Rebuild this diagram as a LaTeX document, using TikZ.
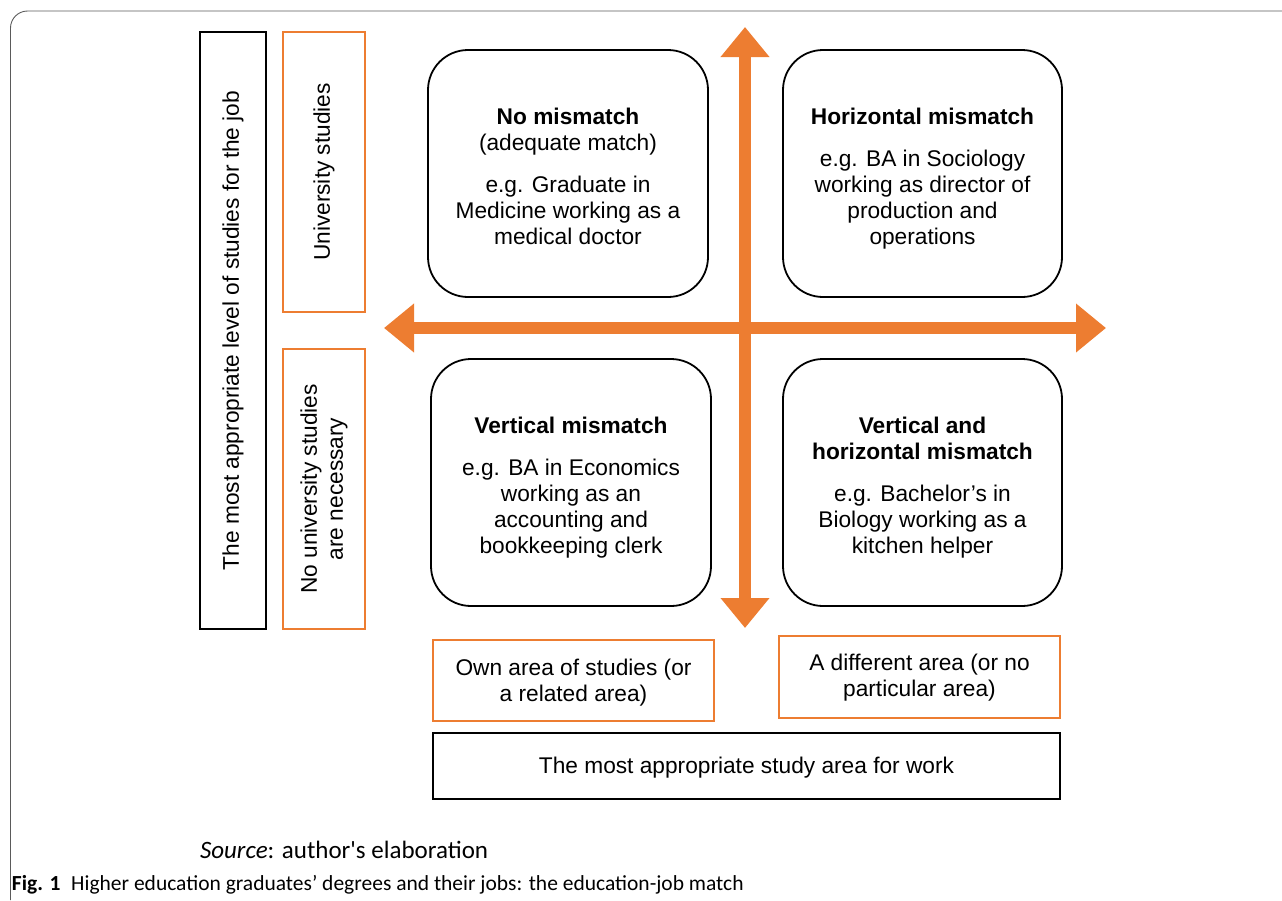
\documentclass[tikz,border=0pt]{standalone}
\usepackage{fontspec}
\setmainfont{Liberation Sans}
\newfontfamily\capfont{Carlito}
\usetikzlibrary{arrows.meta}
\definecolor{orng}{HTML}{ED7D31}
\definecolor{framegray}{HTML}{5A5A5A}
\begin{document}
\begin{tikzpicture}[x=1pt,y=-1pt,
  every node/.style={inner sep=0pt, outer sep=0pt},
  rbox/.style={draw=black, line width=1.8pt, rounded corners=40pt, anchor=north west},
  obox/.style={draw=orng, line width=1.6pt, anchor=north west},
  kbox/.style={draw=black, line width=1.8pt, anchor=north west},
  txt/.style={font=\fontsize{22.7}{26}\selectfont, align=center},
  ttl/.style={txt, anchor=north},
  axisarrow/.style={draw=orng, line width=12pt,
    {Triangle[width=47pt,length=30pt]}-{Triangle[width=47pt,length=30pt]}}
]
\useasboundingbox (0,0) rectangle (1282,900);
\draw[framegray, line width=0.9pt, rounded corners=17pt] (10.5,900) -- (10.5,11) -- (1290,11);

% left axis labels
\node[kbox, minimum width=66, minimum height=597] (lvl) at (200,32) {};
\node[txt, rotate=90] (lvlt) at (lvl.center) {The most appropriate level of studies for the job};
\node[obox, minimum width=82, minimum height=280] (uni) at (283,32) {};
\node[txt, rotate=90] (unit) at (uni.center) {University studies};
\node[obox, minimum width=82, minimum height=280] (nouni) at (283,349) {};
\node[txt, rotate=90] (nounit) at (nouni.center) {No university studies\\are necessary};

% quadrants
\node[rbox, minimum width=280, minimum height=247] (nm) at (428,50) {};
\node[ttl] (nmt) at ([yshift=-56]nm.north) {\strut\textbf{No mismatch}\\(adequate match)\\[16pt]e.g. Graduate in\\Medicine working as a\\medical doctor};
\node[rbox, minimum width=279, minimum height=247] (hm) at (783,50) {};
\node[ttl] (hmt) at ([yshift=-56]hm.north) {\strut\textbf{Horizontal mismatch}\\[16pt]e.g. BA in Sociology\\working as director of\\production and\\operations};
\node[rbox, minimum width=280, minimum height=247] (vm) at (431,359) {};
\node[ttl] (vmt) at ([yshift=-56]vm.north) {\strut\textbf{Vertical mismatch}\\[16pt]e.g. BA in Economics\\working as an\\accounting and\\bookkeeping clerk};
\node[rbox, minimum width=279, minimum height=247] (vhm) at (783,359) {};
\node[ttl] (vhmt) at ([yshift=-56]vhm.north) {\strut\textbf{Vertical and}\\\textbf{horizontal mismatch}\\[16pt]e.g. Bachelor’s in\\Biology working as a\\kitchen helper};

% axes
\coordinate (vtop) at (745,27);
\coordinate (vbot) at (745,628);
\coordinate (hleft) at (384,328);
\coordinate (hright) at (1106,328);
\draw[axisarrow] (hleft) -- (hright);
\draw[axisarrow] (vtop) -- (vbot);

% bottom labels
\node[obox, minimum width=281, minimum height=81] (own) at (433,640) {};
\node[txt] (ownt) at ([yshift=-2]own.center) {Own area of studies (or\\a related area)};
\node[obox, minimum width=281, minimum height=82] (diff) at (779,636) {};
\node[txt] (difft) at ([yshift=-1]diff.center) {A different area (or no\\particular area)};
\node[kbox, minimum width=627, minimum height=66] (area) at (433,733) {};
\node[txt] (areat) at ([yshift=-2]area.center) {The most appropriate study area for work};

% caption
\node[anchor=base west, font=\capfont\fontsize{25}{28}\selectfont] (src) at (200,858) {\textit{Source}: author's elaboration};
\node[anchor=base west, font=\capfont\fontsize{21.5}{24}\selectfont] (cap) at (12,890) {\textbf{Fig. 1}\enspace Higher education graduates’ degrees and their jobs: the education-job match};
\end{tikzpicture}
\end{document}
